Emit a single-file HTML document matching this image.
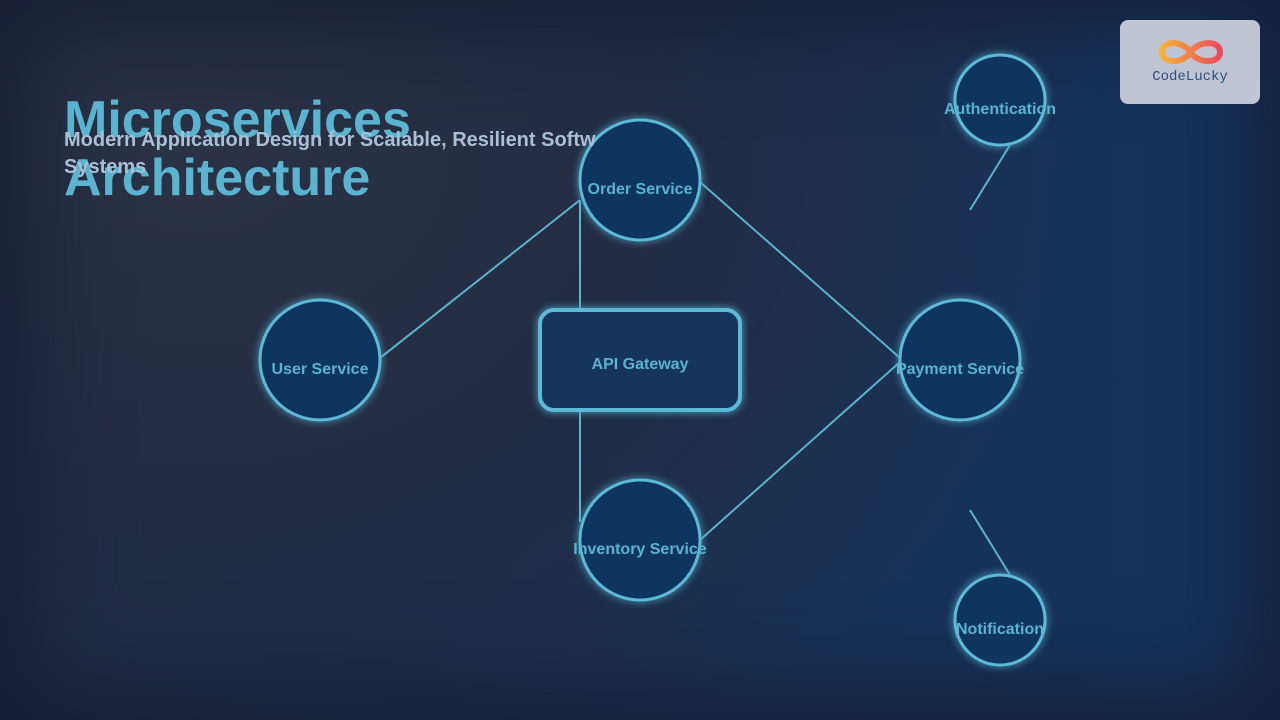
<!DOCTYPE html>
<html><head><meta charset="utf-8"><style>
html,body{margin:0;padding:0;width:1280px;height:720px;overflow:hidden;}
body{background:radial-gradient(ellipse 900px 700px at 200px 150px,#2b3245 0%,#222c44 50%,rgba(0,0,0,0) 100%),linear-gradient(90deg,#1f2a45 0%,#183257 60%,#15335e 100%);font-family:"Liberation Sans",sans-serif;position:relative;}
.vig{position:absolute;inset:0;box-shadow:inset 0 0 90px 30px rgba(20,28,50,0.8);}
.title{position:absolute;left:64px;top:91px;font-size:52px;font-weight:bold;line-height:58px;color:#5ab4cf;}
.sub{position:absolute;left:64px;top:127px;width:532px;overflow:hidden;font-size:20px;font-weight:bold;line-height:27px;color:#a9bfd5;}
.sub span{display:block;width:700px;white-space:nowrap;}
.logo{position:absolute;left:1120px;top:20px;width:140px;height:84px;border-radius:8px;background:#bfc5d2;}
.logo .t{position:absolute;left:0;right:0;top:49px;text-align:center;font-family:"Liberation Mono",monospace;font-size:14px;color:#2c4f7a;}
svg{position:absolute;left:0;top:0;}
</style></head><body>
<div class="vig"></div>
<svg width="1280" height="720" viewBox="0 0 1280 720">
<defs><filter id="g" x="-50%" y="-50%" width="200%" height="200%"><feGaussianBlur stdDeviation="4" result="b"/><feMerge><feMergeNode in="b"/><feMergeNode in="SourceGraphic"/></feMerge></filter></defs>
<g stroke="#5bb3cc" stroke-width="2" fill="none">
<line x1="380" y1="358" x2="580" y2="200"/>
<line x1="580" y1="200" x2="580" y2="308"/>
<line x1="580" y1="412" x2="580" y2="522"/>
<line x1="700" y1="182" x2="900" y2="358"/>
<line x1="900" y1="362" x2="700" y2="540"/>
<line x1="1010" y1="145" x2="970" y2="210"/>
<line x1="970" y1="510" x2="1010" y2="575"/>
</g>
<g fill="#0f3460" stroke="#5bbad6" stroke-width="3" filter="url(#g)">
<circle cx="640" cy="180" r="60"/>
<circle cx="320" cy="360" r="60"/>
<circle cx="960" cy="360" r="60"/>
<circle cx="640" cy="540" r="60"/>
<circle cx="1000" cy="100" r="45"/>
<circle cx="1000" cy="620" r="45"/>
<rect x="540" y="310" width="200" height="100" rx="14" fill="#16365c" stroke-width="4"/>
</g>
<g fill="#5bb3d0" font-family="Liberation Sans, sans-serif" font-weight="bold" font-size="16" text-anchor="middle">
<text x="640" y="194">Order Service</text>
<text x="320" y="374">User Service</text>
<text x="960" y="374">Payment Service</text>
<text x="640" y="554">Inventory Service</text>
<text x="1000" y="114">Authentication</text>
<text x="1000" y="634">Notification</text>
<text x="640" y="369">API Gateway</text>
</g>
</svg>
<div class="title">Microservices<br>Architecture</div>
<div class="sub"><span>Modern Application Design for Scalable, Resilient Software</span>Systems</div>
<div class="logo">
<svg width="140" height="50" viewBox="0 0 140 50" style="position:absolute;left:0;top:0">
<defs><linearGradient id="lg" x1="0" x2="1"><stop offset="0" stop-color="#f7b23b"/><stop offset="1" stop-color="#ec4a5a"/></linearGradient></defs>
<path d="M70 33 C62 44,42 44,42 32 C42 20,62 20,70 32 C78 44,100 44,100 32 C100 20,78 20,70 33" fill="none" stroke="url(#lg)" stroke-width="6"/>
</svg>
<div class="t">CodeLucky</div>
</div>
</body></html>
